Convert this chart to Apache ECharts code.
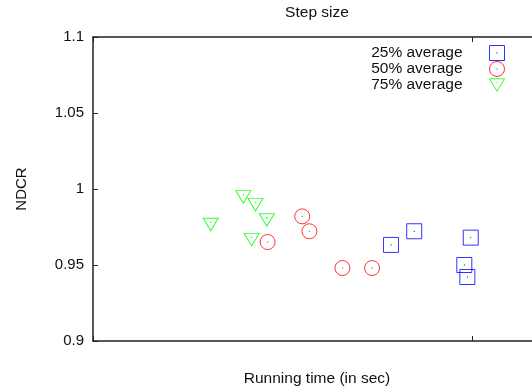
<!DOCTYPE html>
<html>
<head>
<meta charset="utf-8">
<script src="https://cdn.jsdelivr.net/npm/echarts@6/dist/echarts.min.js"></script>
<style>html,body{margin:0;padding:0;background:#fff}#c{width:532px;height:392px}</style>
</head>
<body>
<div id="c"></div>
<script>
// Data (x: running time in arbitrary units, y: NDCR)
const seriesNames = ['25% average', '50% average', '75% average'];
const x25 = [0.785, 0.846, 0.995, 0.978, 0.986];
const y25 = [0.9632, 0.9722, 0.9680, 0.9500, 0.9421];
const x50 = [0.460, 0.551, 0.570, 0.657, 0.735];
const y50 = [0.9651, 0.9820, 0.9722, 0.9480, 0.9480];
const x75 = [0.310, 0.396, 0.428, 0.458, 0.418];
const y75 = [0.9781, 0.9963, 0.9912, 0.9811, 0.9682];
const yTicks = [0.9, 0.95, 1, 1.05, 1.1];

const FONT = 'Liberation Sans';
const pair = (xs, ys) => xs.map((v, i) => [v, ys[i]]);

const SQ = 'path://M0,0H15V15H0Z M7.3,7.3H7.7V7.7H7.3Z';
const CI = 'path://M0,7.5A7.5,7.5 0 1,1 15,7.5A7.5,7.5 0 1,1 0,7.5Z M7.3,7.3H7.7V7.7H7.3Z';
const TR = 'path://M0,0H15L7.5,12.5Z M7.3,3.8H7.7V4.2H7.3Z';

function mk(name, data, sym, col, size, off) {
  return {
    name: name, type: 'scatter', data: data,
    symbol: sym, symbolSize: size, symbolOffset: off || [0, 0],
    itemStyle: { color: 'rgba(0,0,0,0)', borderColor: col, borderWidth: 1 },
    emphasis: { disabled: true },
    xAxisIndex: 0, yAxisIndex: 0
  };
}

const chart = echarts.init(document.getElementById('c'), null, { renderer: 'canvas' });
const axisCommon = {
  axisLine: { show: true, lineStyle: { color: '#222', width: 1.5 } },
  axisTick: { show: true, inside: true, length: 5, lineStyle: { color: '#222' } },
  splitLine: { show: false }
};
chart.setOption({
  animation: false,
  title: {
    text: 'Step size', left: 317, top: 5, textAlign: 'center', padding: 0,
    textStyle: { fontFamily: FONT, fontSize: 15.5, fontWeight: 'normal', color: '#111' }
  },
  grid: { left: 93, top: 37, width: 448, height: 304, containLabel: false, outerBoundsMode: 'none' },
  legend: {
    orient: 'vertical', right: 27, top: 45, align: 'right', padding: 0,
    itemWidth: 15, itemHeight: 15, itemGap: 0,
    itemStyle: { borderWidth: 1 },
    data: seriesNames,
    textStyle: { fontFamily: FONT, fontSize: 15.5, color: '#111', lineHeight: 15, padding: [0, 22, 0, 0] }
  },
  xAxis: [
    Object.assign({
      type: 'value', min: 0, max: 1.18, interval: 1, position: 'bottom',
      name: 'Running time (in sec)', nameLocation: 'middle', nameGap: 30,
      nameTextStyle: { fontFamily: FONT, fontSize: 15.5, color: '#111' },
      axisLabel: { show: false }
    }, axisCommon),
    Object.assign({
      type: 'value', min: 0, max: 1.18, interval: 1, position: 'top',
      axisLabel: { show: false }
    }, axisCommon)
  ],
  yAxis: Object.assign({
    type: 'value', min: yTicks[0], max: yTicks[yTicks.length - 1], interval: 0.05,
    name: 'NDCR', nameLocation: 'middle', nameGap: 64, nameRotate: 90,
    nameTextStyle: { fontFamily: FONT, fontSize: 15, color: '#111' },
    axisLabel: { fontFamily: FONT, fontSize: 15, color: '#111', margin: 9,
      formatter: v => String(Math.round(v * 100) / 100) }
  }, axisCommon),
  series: [
    mk(seriesNames[0], pair(x25, y25), SQ, '#0000ff', 15),
    mk(seriesNames[1], pair(x50, y50), CI, '#ff0000', 15),
    mk(seriesNames[2], pair(x75, y75), TR, '#00ff00', [15, 12.5], [0, 2.25])
  ]
});
</script>
</body>
</html>
